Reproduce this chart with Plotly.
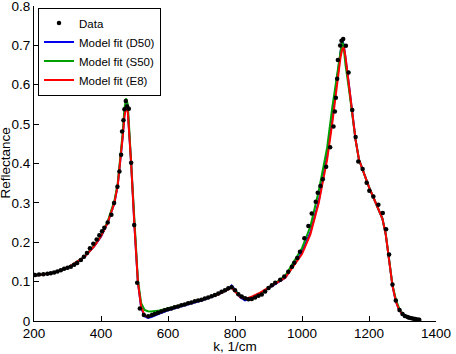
import plotly.graph_objects as go

# Measured data
data_k = [203, 215, 228, 240, 250, 260, 270, 280, 290, 300, 310, 320, 329, 340, 349, 358, 367, 377,
          387, 395, 403, 410, 420, 431, 439, 449, 455, 460, 463, 467, 470, 474, 478, 483, 490, 499,
          508, 516, 528, 541, 552, 560, 570, 580, 590, 600, 610, 620, 630, 640, 650, 660, 670, 680,
          690, 700, 710, 720, 730, 740, 750, 760, 770, 780, 790, 800, 810, 820, 830, 840, 850, 860,
          870, 880, 890, 900, 910, 920, 935, 947, 959, 970, 977, 986, 994, 1007, 1019, 1029, 1041,
          1047, 1055, 1062, 1072, 1084, 1094, 1098, 1101, 1105, 1107, 1114, 1118, 1123, 1131, 1139,
          1150, 1160, 1168, 1181, 1193, 1201, 1213, 1228, 1241, 1251, 1260, 1270, 1280, 1291, 1300,
          1307, 1315, 1320, 1327, 1333, 1338, 1345, 1350]
data_r = [0.117, 0.118, 0.119, 0.120, 0.121, 0.123, 0.126, 0.129, 0.133, 0.135, 0.138, 0.143, 0.147,
          0.155, 0.163, 0.173, 0.185, 0.196, 0.207, 0.218, 0.228, 0.237, 0.250, 0.270, 0.300, 0.341,
          0.380, 0.422, 0.481, 0.510, 0.538, 0.559, 0.545, 0.539, 0.402, 0.244, 0.097, 0.032, 0.015,
          0.012, 0.015, 0.018, 0.021, 0.024, 0.027, 0.030, 0.032, 0.035, 0.037, 0.040, 0.042, 0.045,
          0.047, 0.050, 0.052, 0.054, 0.057, 0.060, 0.063, 0.066, 0.070, 0.074, 0.078, 0.083, 0.086,
          0.078, 0.068, 0.062, 0.058, 0.055, 0.056, 0.060, 0.064, 0.067, 0.075, 0.084, 0.091, 0.097,
          0.105, 0.113, 0.125, 0.138, 0.148, 0.160, 0.176, 0.210, 0.241, 0.273, 0.303, 0.326, 0.343,
          0.360, 0.392, 0.441, 0.494, 0.532, 0.567, 0.615, 0.663, 0.700, 0.712, 0.716, 0.699, 0.631,
          0.536, 0.467, 0.405, 0.386, 0.351, 0.331, 0.316, 0.295, 0.274, 0.233, 0.169, 0.093, 0.052,
          0.028, 0.018, 0.013, 0.010, 0.008, 0.007, 0.006, 0.005, 0.004, 0.003]

# Model fits on a common grid
model_k = [200, 250, 300, 350, 380, 400, 420, 440, 450, 460, 465, 470, 475, 480, 485, 490, 500, 510,
           520, 530, 540, 550, 575, 600, 650, 700, 750, 780, 790, 800, 815, 830, 850, 875, 900, 950,
           1000, 1025, 1050, 1075, 1090, 1100, 1110, 1115, 1120, 1125, 1130, 1140, 1150, 1160, 1170,
           1180, 1190, 1200, 1210, 1220, 1230, 1240, 1250, 1260, 1270, 1280, 1290, 1300, 1320, 1350]
fit_d50 = [0.115, 0.121, 0.135, 0.162, 0.190, 0.214, 0.250, 0.300, 0.345, 0.420, 0.470, 0.525,
           0.552, 0.535, 0.470, 0.400, 0.240, 0.100, 0.033, 0.012, 0.008, 0.010, 0.019, 0.027,
           0.040, 0.052, 0.067, 0.080, 0.090, 0.080, 0.060, 0.052, 0.058, 0.070, 0.083, 0.110,
           0.175, 0.225, 0.305, 0.420, 0.510, 0.585, 0.655, 0.690, 0.715, 0.700, 0.670, 0.600,
           0.530, 0.460, 0.410, 0.385, 0.360, 0.340, 0.320, 0.300, 0.280, 0.260, 0.220, 0.160,
           0.090, 0.050, 0.028, 0.017, 0.008, 0.003]
fit_s50 = [0.115, 0.121, 0.135, 0.163, 0.192, 0.217, 0.253, 0.305, 0.350, 0.430, 0.480, 0.540,
           0.565, 0.550, 0.480, 0.405, 0.245, 0.105, 0.045, 0.028, 0.025, 0.024, 0.027, 0.032,
           0.043, 0.054, 0.068, 0.080, 0.086, 0.078, 0.064, 0.056, 0.055, 0.068, 0.084, 0.115,
           0.185, 0.240, 0.330, 0.440, 0.540, 0.600, 0.660, 0.690, 0.712, 0.690, 0.650, 0.590,
           0.525, 0.460, 0.410, 0.385, 0.360, 0.340, 0.320, 0.300, 0.280, 0.260, 0.220, 0.160,
           0.092, 0.055, 0.032, 0.019, 0.009, 0.003]
fit_e8 = [0.115, 0.121, 0.135, 0.162, 0.190, 0.215, 0.250, 0.300, 0.345, 0.420, 0.470, 0.520,
          0.545, 0.530, 0.470, 0.400, 0.240, 0.100, 0.035, 0.015, 0.010, 0.013, 0.022, 0.030,
          0.042, 0.054, 0.068, 0.080, 0.085, 0.075, 0.062, 0.056, 0.062, 0.072, 0.085, 0.110,
          0.170, 0.220, 0.300, 0.410, 0.500, 0.570, 0.640, 0.670, 0.690, 0.695, 0.670, 0.600,
          0.530, 0.460, 0.410, 0.385, 0.360, 0.340, 0.320, 0.300, 0.280, 0.260, 0.220, 0.160,
          0.090, 0.050, 0.028, 0.017, 0.008, 0.003]

x_ticks = [200, 400, 600, 800, 1000, 1200, 1400]
y_ticks = [0, 0.1, 0.2, 0.3, 0.4, 0.5, 0.6, 0.7, 0.8]
y_tick_labels = ["0", "0.1", "0.2", "0.3", "0.4", "0.5", "0.6", "0.7", "0.8"]

FONT = "Liberation Sans, Arial, Helvetica, sans-serif"

fig = go.Figure()
fig.add_trace(go.Scatter(x=model_k, y=fit_d50, mode="lines", name="Model fit (D50)",
                         line=dict(color="#0000ee", width=2), legendrank=2))
fig.add_trace(go.Scatter(x=model_k, y=fit_s50, mode="lines", name="Model fit (S50)",
                         line=dict(color="#00a000", width=2), legendrank=3))
fig.add_trace(go.Scatter(x=model_k, y=fit_e8, mode="lines", name="Model fit (E8)",
                         line=dict(color="#ff0000", width=2), legendrank=4))
fig.add_trace(go.Scatter(x=data_k, y=data_r, mode="markers", name="Data",
                         marker=dict(color="black", size=4.5), legendrank=1))

axis_common = dict(showline=True, linecolor="black", linewidth=1, ticks="inside", ticklen=5,
                   tickcolor="black", showgrid=False, zeroline=False, mirror=False,
                   ticklabeloverflow="allow",
                   tickfont=dict(family=FONT, size=13.5, color="black"))

fig.update_layout(
    width=456, height=354,
    margin=dict(l=34, r=20, t=6, b=33, autoexpand=False),
    paper_bgcolor="white", plot_bgcolor="white",
    font=dict(family=FONT, color="black"),
    xaxis=dict(range=[200, 1400], tickvals=x_ticks, **axis_common,
               title=dict(text="k, 1/cm", font=dict(family=FONT, size=13.5), standoff=0)),
    yaxis=dict(range=[0, 0.8], tickvals=y_ticks, ticktext=y_tick_labels, **axis_common),
    legend=dict(x=0.01, y=0.995, xanchor="left", yanchor="top", bgcolor="white",
                bordercolor="black", borderwidth=1, font=dict(family=FONT, size=11.5),
                itemwidth=30, tracegroupgap=0),
    showlegend=True,
    annotations=[dict(text="Reflectance", textangle=-90, xref="paper", yref="paper",
                      x=-0.072, y=0.5, xanchor="center", yanchor="middle", showarrow=False,
                      font=dict(family=FONT, size=13.5, color="black"))],
)

fig.write_html("out.html")
